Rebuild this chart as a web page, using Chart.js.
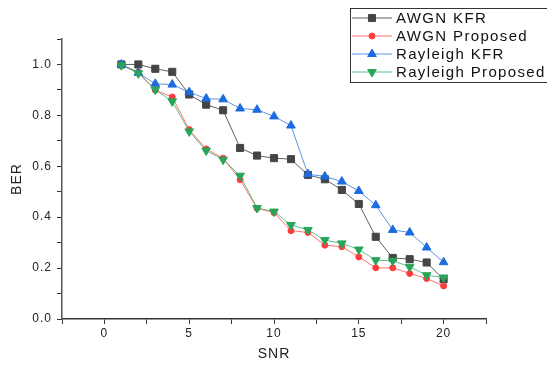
<!DOCTYPE html>
<html>
<head>
<meta charset="utf-8">
<script src="https://cdn.jsdelivr.net/npm/chart.js@4/dist/chart.umd.min.js"></script>
<style>
  body { margin: 0; background: #fff; }
  #wrap { width: 547px; height: 365px; }
</style>
</head>
<body>
<div id="wrap"><canvas id="myChart" width="547" height="365"></canvas></div>
<script>
// values
var snr = [1, 2, 3, 4, 5, 6, 7, 8, 9, 10, 11, 12, 13, 14, 15, 16, 17, 18, 19, 20];
var awgnKfr = [1.0, 1.0, 0.983, 0.971, 0.882, 0.842, 0.82, 0.672, 0.642, 0.632, 0.628, 0.566, 0.549, 0.507, 0.452, 0.323, 0.24, 0.235, 0.222, 0.156];
var awgnProposed = [1.0, 0.97, 0.899, 0.872, 0.744, 0.668, 0.632, 0.547, 0.435, 0.418, 0.347, 0.34, 0.29, 0.284, 0.244, 0.201, 0.201, 0.179, 0.159, 0.13];
var rayleighKfr = [1.0, 0.967, 0.924, 0.921, 0.891, 0.866, 0.863, 0.827, 0.822, 0.796, 0.76, 0.569, 0.56, 0.54, 0.503, 0.447, 0.35, 0.34, 0.281, 0.223];
var rayleighProposed = [0.997, 0.965, 0.901, 0.855, 0.737, 0.662, 0.626, 0.563, 0.436, 0.422, 0.369, 0.35, 0.31, 0.297, 0.273, 0.231, 0.229, 0.205, 0.172, 0.163];
var seriesNames = ['AWGN KFR', 'AWGN Proposed', 'Rayleigh KFR', 'Rayleigh Proposed'];

function pts(vals) {
    return snr.map(function (x, i) { return { x: x, y: vals[i] }; });
}

var styles = [
    { line: 'rgba(80,80,80,0.9)', mark: '#454545', shape: 'rect', r: 5, rot: 0 },
    { line: 'rgba(255,90,90,0.85)', mark: '#ff3b3b', shape: 'circle', r: 3, rot: 0 },
    { line: 'rgba(60,130,230,0.85)', mark: '#1c6be0', shape: 'triangle', r: 5, rot: 0 },
    { line: 'rgba(60,175,110,0.8)', mark: '#27a55a', shape: 'triangle', r: 5, rot: 180 }
];
var allSeries = [awgnKfr, awgnProposed, rayleighKfr, rayleighProposed];

var datasets = allSeries.map(function (vals, i) {
    var s = styles[i];
    return {
        label: seriesNames[i],
        data: pts(vals),
        borderColor: s.line,
        borderWidth: 1,
        pointStyle: s.shape,
        pointRotation: s.rot,
        pointRadius: s.r,
        pointBackgroundColor: s.mark,
        pointBorderColor: s.mark,
        pointBorderWidth: 1,
        order: 4 - i
    };
});

var spacing = {
    id: 'spacing',
    beforeDraw: function (chart) { chart.ctx.letterSpacing = '1px'; }
};

var boxLegend = {
    id: 'boxLegend',
    afterDraw: function (chart) {
        var ctx = chart.ctx;
        ctx.save();
        ctx.strokeStyle = '#333';
        ctx.lineWidth = 1;
        ctx.strokeRect(350.5, 8.5, 198, 74);
        ctx.font = '15px "Liberation Sans", Arial, sans-serif';
        ctx.letterSpacing = '1.35px';
        ctx.textBaseline = 'middle';
        ctx.textAlign = 'left';
        var rows = [18, 36, 54, 72];
        for (var i = 0; i < 4; i++) {
            var s = styles[i], y = rows[i];
            ctx.strokeStyle = s.line;
            ctx.lineWidth = 1;
            ctx.beginPath();
            ctx.moveTo(352, y);
            ctx.lineTo(392, y);
            ctx.stroke();
            ctx.fillStyle = s.mark;
            ctx.strokeStyle = s.mark;
            Chart.helpers.drawPoint(ctx, { pointStyle: s.shape, rotation: s.rot, radius: s.r, borderWidth: 1 }, 372, y);
            ctx.fillStyle = '#111';
            ctx.fillText(seriesNames[i], 396, y + 1);
        }
        ctx.restore();
    }
};

var ctx = document.getElementById('myChart').getContext('2d');
var chart = new Chart(ctx, {
    type: 'line',
    data: { datasets: datasets },
    options: {
        responsive: false,
        animation: false,
        layout: { padding: { top: 39, right: 61, left: 0, bottom: 0 } },
        plugins: { legend: { display: false }, tooltip: { enabled: false } },
        scales: {
            x: {
                type: 'linear',
                min: -2.5,
                max: 22.5,
                afterFit: function (scale) { scale.height = 46; },
                border: { display: true, color: '#333', width: 1.5 },
                grid: { drawOnChartArea: false, drawTicks: true, tickLength: 5, tickColor: '#333' },
                ticks: {
                    stepSize: 2.5,
                    autoSkip: false,
                    maxRotation: 0,
                    padding: 2,
                    color: '#222',
                    font: { family: '"Liberation Sans", Arial, sans-serif', size: 12 },
                    callback: function (v) { return v % 5 === 0 ? v : ''; }
                },
                title: {
                    display: true, text: 'SNR', color: '#222',
                    padding: { top: 0, bottom: 2 },
                    font: { family: '"Liberation Sans", Arial, sans-serif', size: 14 }
                }
            },
            y: {
                min: 0,
                max: 1.1,
                afterFit: function (scale) { scale.width = 62; },
                border: { display: true, color: '#555', width: 1.5 },
                grid: { drawOnChartArea: false, drawTicks: true, tickLength: 5, tickColor: '#333' },
                ticks: {
                    stepSize: 0.1,
                    autoSkip: false,
                    padding: 5,
                    color: '#222',
                    font: { family: '"Liberation Sans", Arial, sans-serif', size: 12 },
                    callback: function (v) { return Math.round(v * 10) % 2 === 0 ? v.toFixed(1) : ''; }
                },
                title: {
                    display: true, text: 'BER', color: '#222',
                    padding: { top: 9, bottom: 0 },
                    font: { family: '"Liberation Sans", Arial, sans-serif', size: 14 }
                }
            }
        }
    },
    plugins: [spacing, boxLegend]
});
</script>
</body>
</html>
